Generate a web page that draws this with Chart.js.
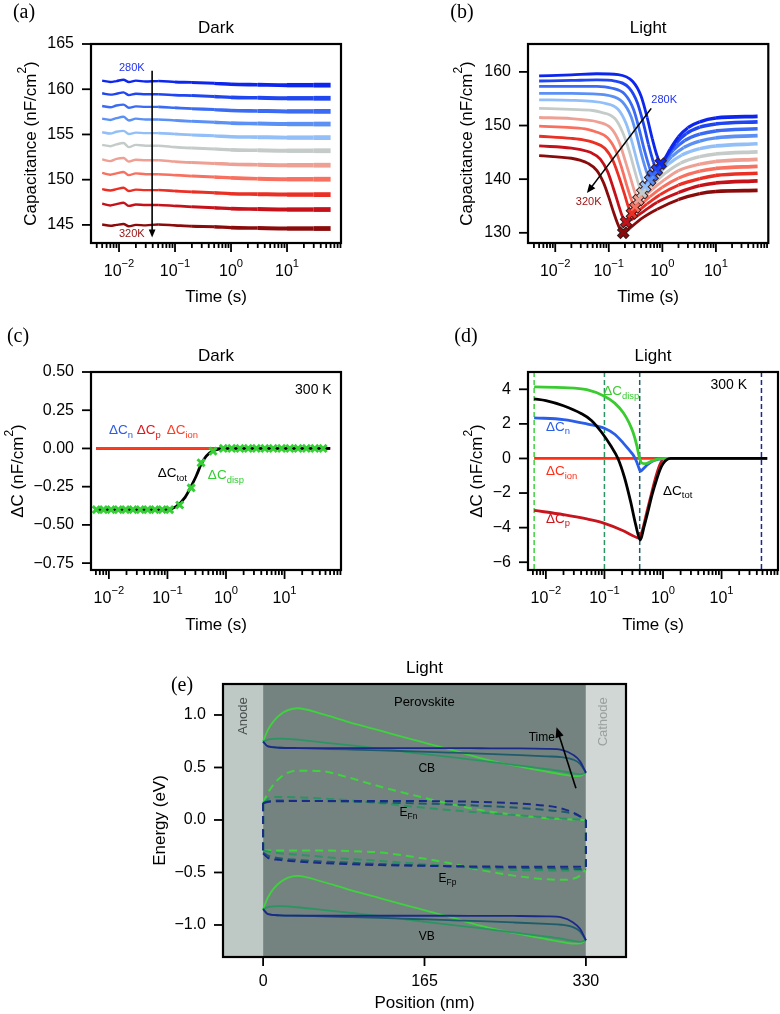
<!DOCTYPE html>
<html lang="en">
<head>
<meta charset="utf-8">
<title>Capacitance transients, dark and light</title>
<script src="https://cdn.jsdelivr.net/npm/chart.js@4.4.1/dist/chart.umd.min.js"></script>
<style>
  html, body { margin: 0; padding: 0; background: #fff; }
  #page { position: relative; width: 780px; height: 1014px; overflow: hidden; }
  #page canvas { position: absolute; }
</style>
</head>
<body>
<div id="page">
  <canvas id="panelA" width="390" height="310" style="left:0px;top:0px"></canvas>
  <canvas id="panelB" width="390" height="310" style="left:390px;top:0px"></canvas>
  <canvas id="panelC" width="390" height="330" style="left:0px;top:310px"></canvas>
  <canvas id="panelD" width="390" height="330" style="left:390px;top:310px"></canvas>
  <canvas id="panelE" width="780" height="374" style="left:0px;top:640px"></canvas>
</div>
<script>
// temperatures, 280 K (top curve) down to 320 K (bottom curve)
const tempLabels = ['280K', '284K', '288K', '292K', '296K', '300K', '304K', '308K', '312K', '316K', '320K'];
const tempColors = ['#0c26ee', '#1f46f0', '#3a6bf2', '#5b90f5', '#92bff7', '#c4cbc8', '#eda093', '#f8705f', '#ea2f24', '#c5121a', '#8a0b0b'];

// (a) dark transients: time (s) and capacitance (nF/cm2)
const darkTimes = [0.005, 0.007, 0.009, 0.012, 0.015, 0.02, 0.03, 0.05, 0.1, 0.2, 0.5, 1, 3, 10, 30, 60];
const dark280K = [160.95, 160.8, 160.9, 161.05, 160.8, 160.95, 160.85, 160.9, 160.8, 160.75, 160.65, 160.55, 160.5, 160.45, 160.45, 160.45];
const dark284K = [159.55, 159.4, 159.5, 159.65, 159.35, 159.5, 159.45, 159.45, 159.35, 159.3, 159.2, 159.1, 159.05, 159.0, 159.0, 159.0];
const dark288K = [158.15, 158.0, 158.2, 158.3, 157.95, 158.1, 158.05, 158.05, 157.95, 157.85, 157.75, 157.65, 157.6, 157.55, 157.55, 157.55];
const dark292K = [156.75, 156.6, 156.8, 156.95, 156.55, 156.75, 156.65, 156.65, 156.55, 156.45, 156.35, 156.25, 156.2, 156.15, 156.15, 156.15];
const dark296K = [155.25, 155.1, 155.3, 155.4, 155.05, 155.2, 155.15, 155.15, 155.05, 154.95, 154.85, 154.75, 154.7, 154.65, 154.65, 154.65];
const dark300K = [153.85, 153.7, 153.9, 154.05, 153.6, 153.85, 153.75, 153.75, 153.6, 153.5, 153.4, 153.3, 153.25, 153.2, 153.2, 153.2];
const dark304K = [152.25, 152.05, 152.3, 152.4, 152.0, 152.2, 152.15, 152.15, 152.0, 151.9, 151.8, 151.7, 151.65, 151.6, 151.6, 151.6];
const dark308K = [150.75, 150.55, 150.7, 150.85, 150.5, 150.7, 150.6, 150.6, 150.5, 150.4, 150.3, 150.2, 150.1, 150.05, 150.05, 150.05];
const dark312K = [148.95, 148.8, 148.95, 149.1, 148.75, 148.9, 148.85, 148.85, 148.75, 148.65, 148.55, 148.45, 148.4, 148.35, 148.35, 148.35];
const dark316K = [147.35, 147.15, 147.3, 147.45, 147.1, 147.25, 147.2, 147.2, 147.1, 147.0, 146.9, 146.8, 146.75, 146.7, 146.7, 146.7];
const dark320K = [145.05, 144.9, 145.0, 145.1, 144.85, 145.0, 144.95, 145.05, 144.95, 144.85, 144.8, 144.7, 144.65, 144.6, 144.6, 144.6];
const darkSeries = [dark280K, dark284K, dark288K, dark292K, dark296K, dark300K, dark304K, dark308K, dark312K, dark316K, dark320K];

// (b) light transients: [time (s), capacitance (nF/cm2)]
const light280K = [[0.005,159.25],[0.02,159.45],[0.06,159.65],[0.15,159.5],[0.28,158.2],[0.4,155.5],[0.52,151.5],[0.65,147.5],[0.8,144.3],[0.93,142.9],[1.1,143.8],[1.4,145.6],[2,147.9],[3,149.6],[5,150.7],[10,151.4],[60,151.7]];
const light284K = [[0.005,158.3],[0.02,158.4],[0.06,158.5],[0.13,158.3],[0.24,157.0],[0.34,154.3],[0.44,150.5],[0.55,146.5],[0.68,143.2],[0.79,141.7],[0.95,142.6],[1.25,144.5],[1.8,146.7],[2.8,148.5],[5,149.7],[10,150.3],[60,150.7]];
const light288K = [[0.005,157.3],[0.02,157.3],[0.06,157.3],[0.11,157.0],[0.2,155.8],[0.29,153.0],[0.37,149.3],[0.46,145.5],[0.57,142.3],[0.66,140.7],[0.8,141.5],[1.1,143.3],[1.6,145.4],[2.6,147.2],[5,148.4],[10,149.0],[60,149.4]];
const light292K = [[0.005,156.0],[0.02,156.0],[0.05,155.9],[0.1,155.6],[0.18,154.4],[0.26,151.7],[0.33,148.2],[0.41,144.5],[0.51,141.3],[0.59,139.8],[0.72,140.5],[1.0,142.2],[1.5,144.2],[2.5,145.9],[5,147.1],[10,147.7],[60,148.1]];
const light296K = [[0.005,154.8],[0.02,154.7],[0.05,154.5],[0.08,154.2],[0.15,153.0],[0.21,150.4],[0.27,147.0],[0.34,143.2],[0.42,140.0],[0.48,138.6],[0.6,139.3],[0.85,140.9],[1.3,142.8],[2.3,144.5],[5,145.7],[10,146.2],[60,146.6]];
const light300K = [[0.005,153.2],[0.02,153.0],[0.05,152.8],[0.07,152.5],[0.13,151.3],[0.18,148.8],[0.24,145.3],[0.3,141.8],[0.37,138.7],[0.42,137.4],[0.53,138.0],[0.75,139.5],[1.2,141.3],[2.2,143.0],[5,144.2],[10,144.7],[60,145.1]];
const light304K = [[0.005,151.5],[0.02,151.3],[0.04,151.0],[0.06,150.7],[0.11,149.5],[0.155,147.0],[0.2,143.6],[0.255,140.2],[0.31,137.4],[0.357,136.1],[0.45,136.7],[0.65,138.1],[1.1,139.9],[2,141.6],[5,142.8],[10,143.3],[60,143.7]];
const light308K = [[0.005,149.9],[0.02,149.6],[0.04,149.3],[0.055,148.9],[0.095,147.7],[0.135,145.3],[0.175,142.0],[0.22,138.6],[0.27,135.9],[0.31,134.7],[0.4,135.3],[0.58,136.7],[1.0,138.5],[2,140.2],[5,141.5],[10,142.0],[60,142.4]];
const light312K = [[0.005,148.0],[0.02,147.6],[0.035,147.3],[0.05,146.9],[0.085,145.7],[0.12,143.4],[0.155,140.4],[0.195,137.3],[0.235,134.7],[0.27,133.6],[0.35,134.1],[0.52,135.4],[0.9,137.1],[2,138.9],[5,140.1],[10,140.7],[60,141.1]];
const light316K = [[0.005,146.2],[0.02,145.8],[0.03,145.5],[0.045,145.0],[0.07,143.7],[0.095,141.4],[0.12,138.5],[0.15,135.4],[0.18,133.0],[0.21,132.0],[0.28,132.6],[0.45,134.0],[0.8,135.7],[2,137.5],[5,138.8],[10,139.3],[60,139.7]];
const light320K = [[0.005,144.4],[0.02,143.9],[0.03,143.5],[0.04,143.0],[0.06,141.6],[0.08,139.3],[0.1,136.6],[0.125,133.6],[0.155,131.1],[0.186,130.0],[0.25,130.9],[0.4,132.6],[0.8,134.4],[2,136.2],[5,137.3],[10,137.7],[60,137.9]];
const lightSeries = [light280K, light284K, light288K, light292K, light296K, light300K, light304K, light308K, light312K, light316K, light320K];
// minimum of each light transient (marked with crosses)
const lightMinTimes = [0.93, 0.79, 0.66, 0.59, 0.48, 0.42, 0.357, 0.31, 0.27, 0.21, 0.186];
const lightMinCap = [142.9, 141.7, 140.7, 139.8, 138.6, 137.4, 136.1, 134.7, 133.6, 132.0, 130.0];

// (c) dark, 300 K: contributions to the capacitance change (nF/cm2)
const flatTimes = [0.0061, 60];
const cnDark = [0, 0];
const cpDark = [0, 0];
const cionDark = [0, 0];
const totDarkTimes = [0.0061, 0.05, 0.1, 0.14, 0.2, 0.26, 0.31, 0.38, 0.46, 0.6, 0.8, 1, 60];
const totDark = [-0.40, -0.40, -0.398, -0.38, -0.32, -0.24, -0.18, -0.10, -0.05, -0.015, -0.003, 0, 0];
const dispDarkTimes = [0.0061, 0.0081, 0.0109, 0.0145, 0.0193, 0.0258, 0.0344, 0.0459, 0.0612, 0.0816, 0.109, 0.162, 0.254, 0.375, 0.6,
  0.9, 1.25, 1.73, 2.4, 3.3, 4.6, 6.4, 8.9, 12.3, 17, 23.6, 32.8, 45.5];
const dispDark = [-0.40, -0.40, -0.40, -0.40, -0.40, -0.40, -0.40, -0.40, -0.40, -0.40, -0.40, -0.37, -0.258, -0.094, -0.018,
  0, 0, 0, 0, 0, 0, 0, 0, 0, 0, 0, 0, 0];

// (d) light, 300 K
const dispLightTimes = [0.0063, 0.02, 0.05, 0.1, 0.15, 0.21, 0.26, 0.31, 0.36, 0.39, 0.43, 0.5, 0.64, 0.85, 1.2, 60];
const dispLight = [4.14, 4.1, 3.98, 3.6, 3.2, 2.64, 2.1, 1.49, 0.7, 0.13, -0.25, -0.3, -0.15, -0.03, 0, 0];
const cnLightTimes = [0.0063, 0.02, 0.05, 0.1, 0.15, 0.21, 0.27, 0.31, 0.35, 0.38, 0.41, 0.46, 0.55, 0.7, 0.9, 1.2, 60];
const cnLight = [2.35, 2.25, 2.0, 1.75, 1.4, 0.89, 0.45, 0.2, -0.15, -0.46, -0.73, -0.6, -0.35, -0.12, -0.02, 0, 0];
const cpLightTimes = [0.0063, 0.02, 0.05, 0.1, 0.2, 0.3, 0.38, 0.44, 0.53, 0.65, 0.78, 0.9, 1.05, 60];
const cpLight = [-3.0, -3.25, -3.5, -3.75, -4.15, -4.45, -4.6, -4.2, -3.1, -1.9, -0.9, -0.3, 0, 0];
const cionLightTimes = [0.0063, 60];
const cionLight = [0, 0];
const totLightTimes = [0.0063, 0.01, 0.02, 0.04, 0.06, 0.09, 0.13, 0.17, 0.22, 0.28, 0.34, 0.41, 0.47, 0.55, 0.65, 0.78, 0.9, 1.0, 1.15, 1.35, 60];
const totLight = [3.45, 3.35, 3.05, 2.6, 2.2, 1.5, 0.7, 0.0, -1.1, -2.5, -3.8, -4.72, -4.0, -3.1, -2.1, -1.2, -0.6, -0.3, -0.08, 0, 0];
// times of the band-diagram snapshots in (e)
const snapshotTimes = [0.0063, 0.1, 0.4, 48];
const snapshotColors = ['#3ed23e', '#2c9463', '#1e5c6c', '#1b2a88'];

// (e) band diagram under light: position (nm) and energy (eV)
const layerEdges = [0, 330];
const posE = [0, 5, 17, 35, 60, 85, 120, 153, 190, 222, 256, 290, 305, 317, 324, 330];
const cbGreen    = [0.746, 0.86, 1.0, 1.064, 1.01, 0.94, 0.85, 0.765, 0.675, 0.59, 0.52, 0.46, 0.435, 0.418, 0.42, 0.45];
const cbTeal     = [0.746, 0.765, 0.775, 0.765, 0.74, 0.715, 0.68, 0.64, 0.60, 0.565, 0.525, 0.485, 0.465, 0.445, 0.435, 0.45];
const cbDarkTeal = [0.746, 0.70, 0.688, 0.684, 0.678, 0.672, 0.663, 0.653, 0.642, 0.632, 0.62, 0.606, 0.598, 0.575, 0.535, 0.45];
const cbNavy     = [0.746, 0.70, 0.688, 0.685, 0.684, 0.684, 0.684, 0.684, 0.684, 0.683, 0.682, 0.678, 0.668, 0.62, 0.56, 0.45];
const vbGreen    = [-0.85, -0.736, -0.596, -0.532, -0.586, -0.656, -0.746, -0.831, -0.921, -1.006, -1.076, -1.136, -1.161, -1.178, -1.176, -1.146];
const vbTeal     = [-0.85, -0.831, -0.821, -0.831, -0.856, -0.881, -0.916, -0.956, -0.996, -1.031, -1.071, -1.111, -1.131, -1.151, -1.161, -1.146];
const vbDarkTeal = [-0.85, -0.896, -0.908, -0.912, -0.918, -0.924, -0.933, -0.943, -0.954, -0.964, -0.976, -0.99, -0.998, -1.021, -1.061, -1.146];
const vbNavy     = [-0.85, -0.896, -0.908, -0.911, -0.912, -0.912, -0.912, -0.912, -0.912, -0.913, -0.914, -0.918, -0.928, -0.976, -1.036, -1.146];
const efnGreen    = [0.16, 0.26, 0.40, 0.47, 0.465, 0.41, 0.317, 0.238, 0.155, 0.095, 0.05, 0.016, 0.008, 0.004, 0.002, 0.0];
const efnTeal     = [0.16, 0.2, 0.22, 0.215, 0.205, 0.19, 0.16, 0.127, 0.095, 0.07, 0.048, 0.025, 0.015, 0.008, 0.004, 0.0];
const efnDarkTeal = [0.16, 0.178, 0.185, 0.183, 0.18, 0.175, 0.167, 0.159, 0.148, 0.135, 0.118, 0.095, 0.08, 0.06, 0.035, 0.0];
const efnNavy     = [0.16, 0.172, 0.178, 0.18, 0.18, 0.18, 0.18, 0.18, 0.178, 0.172, 0.16, 0.135, 0.11, 0.07, 0.035, 0.0];
const efpGreen    = [-0.29, -0.29, -0.29, -0.29, -0.29, -0.295, -0.31, -0.35, -0.41, -0.476, -0.53, -0.565, -0.57, -0.56, -0.53, -0.47];
const efpTeal     = [-0.29, -0.30, -0.317, -0.33, -0.35, -0.37, -0.39, -0.413, -0.44, -0.46, -0.476, -0.48, -0.48, -0.48, -0.478, -0.47];
const efpDarkTeal = [-0.31, -0.34, -0.365, -0.38, -0.395, -0.405, -0.42, -0.43, -0.44, -0.45, -0.455, -0.46, -0.462, -0.465, -0.468, -0.47];
const efpNavy     = [-0.32, -0.36, -0.38, -0.395, -0.41, -0.42, -0.43, -0.435, -0.44, -0.443, -0.445, -0.445, -0.445, -0.445, -0.445, -0.47];
const cbSnaps = [cbGreen, cbTeal, cbDarkTeal, cbNavy];
const vbSnaps = [vbGreen, vbTeal, vbDarkTeal, vbNavy];
const efnSnaps = [efnGreen, efnTeal, efnDarkTeal, efnNavy];
const efpSnaps = [efpGreen, efpTeal, efpDarkTeal, efpNavy];

// tick values
const yTicksA = [145, 150, 155, 160, 165];
const yTicksB = [130, 140, 150, 160];
const yTicksC = [-0.75, -0.5, -0.25, 0, 0.25, 0.5];
const yTicksD = [-6, -4, -2, 0, 2, 4];
const yTicksE = [-1, -0.5, 0, 0.5, 1];
const xTicksE = [0, 165, 330];

const SANS = '"Liberation Sans", Arial, Helvetica, sans-serif';
const SERIF = '"Liberation Serif", "DejaVu Serif", serif';

function pts(xs, ys) { return xs.map((x, i) => ({x: x, y: ys[i]})); }
function pairs(list) { return list.map(p => ({x: p[0], y: p[1]})); }
function minus(s) { return String(s).replace('-', '\u2212'); }

// text made of parts [text, 'n' | 'sub' | 'sup']
function richText(ctx, parts, x, y, size, opts) {
  opts = opts || {};
  const family = opts.family || SANS;
  const small = size * 0.7;
  ctx.save();
  ctx.translate(x, y);
  if (opts.rotate) ctx.rotate(opts.rotate);
  ctx.fillStyle = opts.color || '#000';
  ctx.textBaseline = 'middle';
  ctx.textAlign = 'left';
  let total = 0;
  const widths = parts.map(p => {
    ctx.font = (p[1] === 'n' ? size : small) + 'px ' + family;
    const w = ctx.measureText(p[0]).width;
    total += w;
    return w;
  });
  let cx = opts.align === 'center' ? -total / 2 : opts.align === 'right' ? -total : 0;
  parts.forEach((p, i) => {
    ctx.font = (p[1] === 'n' ? size : small) + 'px ' + family;
    const dy = p[1] === 'sub' ? size * 0.33 : p[1] === 'sup' ? -size * 0.5 : 0;
    ctx.fillText(p[0], cx, dy);
    cx += widths[i];
  });
  ctx.restore();
}

function seg(ctx, x1, y1, x2, y2) {
  ctx.beginPath(); ctx.moveTo(x1, y1); ctx.lineTo(x2, y2); ctx.stroke();
}

function arrow(ctx, x1, y1, x2, y2, color, lw, head) {
  const ang = Math.atan2(y2 - y1, x2 - x1);
  const c = Math.cos(ang), s = Math.sin(ang);
  ctx.save();
  ctx.strokeStyle = color; ctx.fillStyle = color; ctx.lineWidth = lw;
  seg(ctx, x1, y1, x2 - c * head * 0.8, y2 - s * head * 0.8);
  ctx.beginPath();
  ctx.moveTo(x2, y2);
  ctx.lineTo(x2 - head * c + head * 0.42 * s, y2 - head * s - head * 0.42 * c);
  ctx.lineTo(x2 - head * c - head * 0.42 * s, y2 - head * s + head * 0.42 * c);
  ctx.closePath(); ctx.fill();
  ctx.restore();
}

function drawFrame(chart, cfg) {
  const ctx = chart.ctx, a = chart.chartArea, x = chart.scales.x, y = chart.scales.y;
  ctx.save();
  ctx.strokeStyle = '#000';
  ctx.lineWidth = 1.8;
  y.ticks.forEach(t => {
    const py = y.getPixelForValue(t.value);
    seg(ctx, a.left, py, a.left - 9, py);
    richText(ctx, [[cfg.yFmt(t.value), 'n']], a.left - 17, py, 16, {align: 'right'});
  });
  x.ticks.forEach(t => {
    const px = x.getPixelForValue(t.value);
    if (px < a.left - 1 || px > a.right + 1) return;
    if (cfg.log) {
      const e = Math.floor(Math.log10(t.value) + 1e-9);
      const m = t.value / Math.pow(10, e);
      if (Math.abs(m - Math.round(m)) > 1e-6) return;
      const major = Math.round(m) === 1;
      seg(ctx, px, a.bottom, px, a.bottom + (major ? 9 : 5));
      if (major) richText(ctx, [['10', 'n'], [minus(e), 'sup']], px, a.bottom + 29, 16, {align: 'center'});
    } else {
      seg(ctx, px, a.bottom, px, a.bottom + 9);
      richText(ctx, [[String(t.value), 'n']], px, a.bottom + 25, 16, {align: 'center'});
    }
  });
  ctx.lineWidth = 2.2;
  ctx.strokeRect(a.left, a.top, a.right - a.left, a.bottom - a.top);
  const cxm = (a.left + a.right) / 2, cym = (a.top + a.bottom) / 2;
  richText(ctx, [[cfg.title, 'n']], cxm, a.top - 16, 17, {align: 'center'});
  richText(ctx, [[cfg.xTitle, 'n']], cxm, a.bottom + cfg.xTitleDy, 17, {align: 'center'});
  richText(ctx, cfg.yTitle, a.left - cfg.yTitleDx, cym, 17, {align: 'center', rotate: -Math.PI / 2});
  richText(ctx, [[cfg.letter, 'n']], cfg.letterAt[0], cfg.letterAt[1], 20, {align: 'center', family: SERIF});
  ctx.restore();
}

function decor(cfg) {
  return {
    id: 'decor',
    beforeDatasetsDraw(chart) { if (cfg.under) cfg.under(chart); },
    afterDatasetsDraw(chart) { if (cfg.over) cfg.over(chart); },
    afterDraw(chart) { drawFrame(chart, cfg); }
  };
}

function axes(p, xOpts, yOpts) {
  const hidden = () => ({grid: {display: false}, border: {display: false}, ticks: {display: false, autoSkip: false}});
  const x = Object.assign(hidden(), xOpts, {
    afterFit(s) { s.height = p.h - p.area.bottom; s.paddingLeft = 0; s.paddingRight = 0; }
  });
  const y = Object.assign(hidden(), yOpts, {
    afterFit(s) { s.width = p.area.left; s.paddingTop = 0; s.paddingBottom = 0; }
  });
  return {x: x, y: y};
}

function options(p, scales) {
  return {
    responsive: false,
    animation: false,
    events: [],
    layout: {padding: {left: 0, top: p.area.top, right: p.w - p.area.right, bottom: 0}},
    plugins: {legend: {display: false}, tooltip: {enabled: false}},
    scales: scales
  };
}

function fixedTicks(list) { return s => { s.ticks = list.map(v => ({value: v})); }; }

function lineSet(data, color, width, extra) {
  return Object.assign({data: data, borderColor: color, backgroundColor: color, borderWidth: width,
    pointRadius: 0, fill: false, cubicInterpolationMode: 'monotone'}, extra || {});
}

const capTitle = [['Capacitance (nF/cm', 'n'], ['2', 'sup'], [')', 'n']];
const dcTitle = [['\u0394C (nF/cm', 'n'], ['2', 'sup'], [')', 'n']];

// ---------- (a) Dark ----------
const pA = {w: 390, h: 310, area: {left: 91, top: 44, right: 341, bottom: 243}};
new Chart(document.getElementById('panelA'), {
  type: 'line',
  data: {
    datasets: darkSeries.map((vals, i) => lineSet(pts(darkTimes, vals), tempColors[i], 2.6, {
      label: tempLabels[i],
      segment: {borderWidth: c => 2.4 + 0.8 * Math.max(0, Math.log10(c.p0.parsed.x) + 1.5)}
    }))
  },
  options: options(pA, axes(pA,
    {type: 'logarithmic', min: 0.00316, max: 92},
    {type: 'linear', min: 143, max: 165, afterBuildTicks: fixedTicks(yTicksA)})),
  plugins: [decor({
    log: true, yFmt: v => minus(v), title: 'Dark', xTitle: 'Time (s)', xTitleDy: 54,
    yTitle: capTitle, yTitleDx: 60, letter: '(a)', letterAt: [24, 13],
    over(chart) {
      const ctx = chart.ctx, x = chart.scales.x, y = chart.scales.y;
      const ax = x.getPixelForValue(0.039);
      arrow(ctx, ax, y.getPixelForValue(162.05), ax, y.getPixelForValue(143.6), '#000', 1.6, 8);
      richText(ctx, [[tempLabels[0], 'n']], x.getPixelForValue(0.0169), y.getPixelForValue(162.3), 11, {align: 'center', color: '#2233ee'});
      richText(ctx, [[tempLabels[10], 'n']], x.getPixelForValue(0.0169), y.getPixelForValue(143.95), 11, {align: 'center', color: '#9a1010'});
    }
  })]
});

// ---------- (b) Light ----------
const pB = {w: 390, h: 310, area: {left: 138, top: 44, right: 388, bottom: 243}};
const minPoints = pts(lightMinTimes, lightMinCap);
new Chart(document.getElementById('panelB'), {
  type: 'line',
  data: {
    datasets: [
      {data: minPoints, showLine: false, pointStyle: 'crossRot', pointRadius: 5.5, pointBorderWidth: 3.2,
        pointBorderColor: tempColors.slice(), pointBackgroundColor: tempColors.slice(), order: 0},
      {data: minPoints, showLine: false, pointStyle: 'crossRot', pointRadius: 6.5, pointBorderWidth: 5.2,
        pointBorderColor: '#3a1c1c', pointBackgroundColor: '#3a1c1c', order: 1}
    ].concat(lightSeries.map((list, i) => lineSet(pairs(list), tempColors[i], 3, {
      label: tempLabels[i], order: 2,
      segment: {borderWidth: c => 2.8 + 0.7 * Math.max(0, Math.log10(c.p0.parsed.x) + 0.3)}
    })))
  },
  options: options(pB, axes(pB,
    {type: 'logarithmic', min: 0.0031, max: 95},
    {type: 'linear', min: 128.1, max: 165.2, afterBuildTicks: fixedTicks(yTicksB)})),
  plugins: [decor({
    log: true, yFmt: v => minus(v), title: 'Light', xTitle: 'Time (s)', xTitleDy: 54,
    yTitle: capTitle, yTitleDx: 61, letter: '(b)', letterAt: [72, 13],
    over(chart) {
      const ctx = chart.ctx, x = chart.scales.x, y = chart.scales.y;
      arrow(ctx, x.getPixelForValue(0.62), y.getPixelForValue(153.2), x.getPixelForValue(0.039), y.getPixelForValue(137.4), '#000', 1.6, 9);
      richText(ctx, [[tempLabels[0], 'n']], x.getPixelForValue(1.08), y.getPixelForValue(154.7), 11, {align: 'center', color: '#2233ee'});
      richText(ctx, [[tempLabels[10], 'n']], x.getPixelForValue(0.042), y.getPixelForValue(135.7), 11, {align: 'center', color: '#9a1010'});
    }
  })]
});

// ---------- (c) Dark, 300 K ----------
const pC = {w: 390, h: 330, area: {left: 91, top: 62, right: 341, bottom: 260}};
new Chart(document.getElementById('panelC'), {
  type: 'line',
  data: {
    datasets: [
      {data: pts(dispDarkTimes, dispDark), showLine: false, pointStyle: 'crossRot', pointRadius: 5,
        pointBorderWidth: 3, pointBorderColor: '#35cf35', order: 0},
      lineSet(pts(totDarkTimes, totDark), '#000', 2.8, {order: 1}),
      lineSet(pts(flatTimes, cionDark), '#ff3b1f', 2.8, {order: 2}),
      lineSet(pts(flatTimes, cpDark), '#d0101a', 2.8, {order: 3}),
      lineSet(pts(flatTimes, cnDark), '#2d5be3', 2.8, {order: 4})
    ]
  },
  options: options(pC, axes(pC,
    {type: 'logarithmic', min: 0.00495, max: 92},
    {type: 'linear', min: -0.795, max: 0.5, afterBuildTicks: fixedTicks(yTicksC)})),
  plugins: [decor({
    log: true, yFmt: v => minus(v.toFixed(2)), title: 'Dark', xTitle: 'Time (s)', xTitleDy: 55,
    yTitle: dcTitle, yTitleDx: 73, letter: '(c)', letterAt: [18, 27],
    over(chart) {
      const ctx = chart.ctx, x = chart.scales.x, y = chart.scales.y;
      const t = (tx, ty, parts, color, align) =>
        richText(ctx, parts, x.getPixelForValue(tx), y.getPixelForValue(ty), 13.5, {color: color, align: align || 'left'});
      t(0.01, 0.116, [['\u0394C', 'n'], ['n', 'sub']], '#2d5be3');
      t(0.03, 0.116, [['\u0394C', 'n'], ['p', 'sub']], '#e0151b');
      t(0.097, 0.116, [['\u0394C', 'n'], ['ion', 'sub']], '#ff3b1f');
      t(0.068, -0.165, [['\u0394C', 'n'], ['tot', 'sub']], '#000');
      t(0.49, -0.178, [['\u0394C', 'n'], ['disp', 'sub']], '#33cc33');
      richText(ctx, [['300 K', 'n']], x.getPixelForValue(63.7), y.getPixelForValue(0.383), 14, {align: 'right'});
    }
  })]
});

// ---------- (d) Light, 300 K ----------
const pD = {w: 390, h: 330, area: {left: 138, top: 62, right: 388, bottom: 260}};
new Chart(document.getElementById('panelD'), {
  type: 'line',
  data: {
    datasets: [
      lineSet(pts(totLightTimes, totLight), '#000', 2.8, {order: 0}),
      lineSet(pts(dispLightTimes, dispLight), '#3acb30', 2.8, {order: 1}),
      lineSet(pts(cnLightTimes, cnLight), '#2a5ee8', 2.8, {order: 2}),
      lineSet(pts(cpLightTimes, cpLight), '#c8141c', 2.8, {order: 3}),
      lineSet(pts(cionLightTimes, cionLight), '#ff2e14', 2.8, {order: 4})
    ]
  },
  options: options(pD, axes(pD,
    {type: 'logarithmic', min: 0.00495, max: 92},
    {type: 'linear', min: -6.45, max: 5.0, afterBuildTicks: fixedTicks(yTicksD)})),
  plugins: [decor({
    log: true, yFmt: v => minus(v), title: 'Light', xTitle: 'Time (s)', xTitleDy: 55,
    yTitle: dcTitle, yTitleDx: 51, letter: '(d)', letterAt: [76, 27],
    under(chart) {
      const ctx = chart.ctx, a = chart.chartArea, x = chart.scales.x;
      ctx.save();
      ctx.lineWidth = 1.5;
      ctx.setLineDash([5, 3]);
      snapshotTimes.forEach((tm, i) => {
        ctx.strokeStyle = snapshotColors[i];
        const px = x.getPixelForValue(tm);
        seg(ctx, px, a.top, px, a.bottom);
      });
      ctx.restore();
    },
    over(chart) {
      const ctx = chart.ctx, x = chart.scales.x, y = chart.scales.y;
      const t = (tx, ty, parts, color) =>
        richText(ctx, parts, x.getPixelForValue(tx), y.getPixelForValue(ty), 13.5, {color: color});
      t(0.095, 3.86, [['\u0394C', 'n'], ['disp', 'sub']], '#3acb30');
      t(0.01, 1.83, [['\u0394C', 'n'], ['n', 'sub']], '#2a5ee8');
      t(0.01, -0.77, [['\u0394C', 'n'], ['ion', 'sub']], '#ff2e14');
      t(1.0, -1.87, [['\u0394C', 'n'], ['tot', 'sub']], '#000');
      t(0.01, -3.49, [['\u0394C', 'n'], ['p', 'sub']], '#d0151b');
      richText(ctx, [['300 K', 'n']], x.getPixelForValue(27.2), y.getPixelForValue(4.26), 14, {align: 'right'});
    }
  })]
});

// ---------- (e) Band diagram, light ----------
const pE = {w: 780, h: 374, area: {left: 223, top: 44, right: 626, bottom: 317}};
const bandSets = [];
snapshotColors.forEach((color, i) => {
  const ord = i === 3 ? 0 : 4 - i;
  bandSets.push(lineSet(pts(posE, cbSnaps[i]), color, 1.8, {order: ord}));
  bandSets.push(lineSet(pts(posE, vbSnaps[i]), color, 1.8, {order: ord}));
  const dash = {order: ord, borderDash: [8, 5]};
  bandSets.push(lineSet(pts(posE, efnSnaps[i]), color, 2, dash));
  bandSets.push(lineSet(pts(posE, efpSnaps[i]), color, 2, dash));
  const last = posE.length - 1;
  bandSets.push(lineSet([{x: posE[0], y: efnSnaps[i][0]}, {x: posE[0], y: efpSnaps[i][0]}], color, 2, dash));
  bandSets.push(lineSet([{x: posE[last], y: efnSnaps[i][last]}, {x: posE[last], y: efpSnaps[i][last]}], color, 2, dash));
});
new Chart(document.getElementById('panelE'), {
  type: 'line',
  data: {datasets: bandSets},
  options: options(pE, axes(pE,
    {type: 'linear', min: -41, max: 371, afterBuildTicks: fixedTicks(xTicksE)},
    {type: 'linear', min: -1.305, max: 1.295, afterBuildTicks: fixedTicks(yTicksE)})),
  plugins: [decor({
    log: false, yFmt: v => minus(v.toFixed(1)), title: 'Light', xTitle: 'Position (nm)', xTitleDy: 46,
    yTitle: [['Energy (eV)', 'n']], yTitleDx: 63, letter: '(e)', letterAt: [182, 46],
    under(chart) {
      const ctx = chart.ctx, a = chart.chartArea, x = chart.scales.x;
      const x0 = x.getPixelForValue(layerEdges[0]), x1 = x.getPixelForValue(layerEdges[1]);
      ctx.save();
      ctx.fillStyle = '#bec8c5'; ctx.fillRect(a.left, a.top, x0 - a.left, a.bottom - a.top);
      ctx.fillStyle = '#74837f'; ctx.fillRect(x0, a.top, x1 - x0, a.bottom - a.top);
      ctx.fillStyle = '#d0d7d4'; ctx.fillRect(x1, a.top, a.right - x1, a.bottom - a.top);
      ctx.restore();
    },
    over(chart) {
      const ctx = chart.ctx, x = chart.scales.x, y = chart.scales.y;
      const X = v => x.getPixelForValue(v), Y = v => y.getPixelForValue(v);
      richText(ctx, [['Anode', 'n']], X(-20.1), Y(0.99), 13, {align: 'center', rotate: -Math.PI / 2, color: '#4a4f4e'});
      richText(ctx, [['Cathode', 'n']], X(348.4), Y(0.935), 13, {align: 'center', rotate: -Math.PI / 2, color: '#9aa09e'});
      richText(ctx, [['Perovskite', 'n']], X(164.8), Y(1.12), 13, {align: 'center'});
      richText(ctx, [['CB', 'n']], X(167.3), Y(0.485), 12, {align: 'center'});
      richText(ctx, [['VB', 'n']], X(167.3), Y(-1.11), 12, {align: 'center'});
      richText(ctx, [['E', 'n'], ['Fn', 'sub']], X(148.6), Y(0.067), 12, {align: 'center'});
      richText(ctx, [['E', 'n'], ['Fp', 'sub']], X(188.5), Y(-0.555), 12, {align: 'center'});
      richText(ctx, [['Time', 'n']], X(298.3), Y(0.783), 12, {align: 'right'});
      arrow(ctx, X(319.8), Y(0.302), X(300), Y(0.882), '#000', 1.6, 10);
    }
  })]
});
</script>
</body>
</html>
